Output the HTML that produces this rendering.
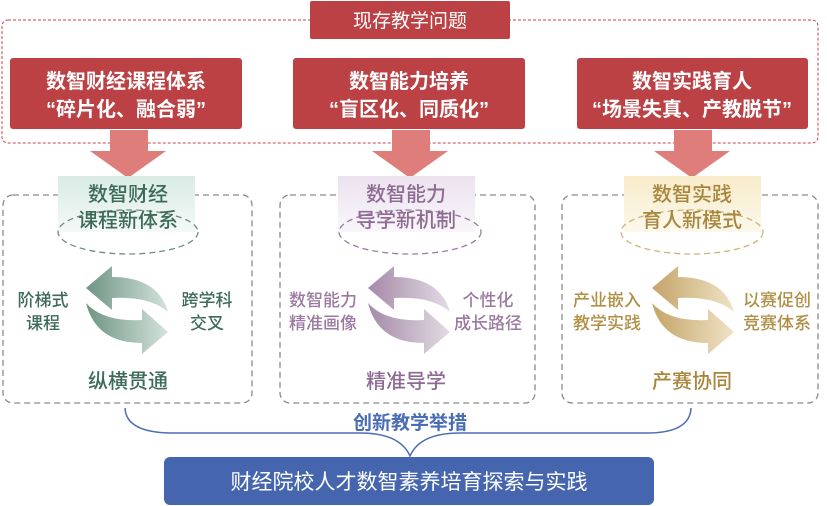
<!DOCTYPE html>
<html><head><meta charset="utf-8"><style>
html,body{margin:0;padding:0;background:#fff;}
svg{display:block;font-family:"Liberation Sans","Noto Sans CJK SC",sans-serif;}
</style></head><body>
<svg width="827" height="506" viewBox="0 0 827 506" xmlns="http://www.w3.org/2000/svg">
<defs>
<linearGradient id="gG" x1="0" x2="1" y1="0" y2="0"><stop offset="0" stop-color="#6e9483"/><stop offset="1" stop-color="#d3e3dc"/></linearGradient>
<linearGradient id="gP" x1="0" x2="1" y1="0" y2="0"><stop offset="0" stop-color="#a58aa8"/><stop offset="1" stop-color="#e3dbe4"/></linearGradient>
<linearGradient id="gY" x1="0" x2="1" y1="0" y2="0"><stop offset="0" stop-color="#c4a468"/><stop offset="1" stop-color="#efe3c6"/></linearGradient>
<linearGradient id="hG" x1="0" x2="0" y1="0" y2="1"><stop offset="0" stop-color="#d9ebe4"/><stop offset="1" stop-color="#f4f9f7"/></linearGradient>
<linearGradient id="hP" x1="0" x2="0" y1="0" y2="1"><stop offset="0" stop-color="#ebe2ee"/><stop offset="1" stop-color="#f9f6fa"/></linearGradient>
<linearGradient id="hY" x1="0" x2="0" y1="0" y2="1"><stop offset="0" stop-color="#f7ebc9"/><stop offset="1" stop-color="#fcf8ec"/></linearGradient>
</defs>

<rect x="2" y="20" width="816" height="123" rx="6" fill="none" stroke="#c9404a" stroke-width="1" stroke-dasharray="3,2"/>
<rect x="310" y="1" width="200" height="38" rx="2" fill="#bb4145"/>
<text x="410" y="27" text-anchor="middle" font-size="19" fill="#fff">现存教学问题</text>

<g font-size="20" fill="#fff" text-anchor="middle" font-weight="bold">
<rect x="10" y="58" width="232" height="71" rx="3" fill="#bb4145"/>
<text x="126" y="88">数智财经课程体系</text><text x="126" y="116">“碎片化、融合弱”</text>
<rect x="293" y="58" width="232" height="71" rx="3" fill="#bb4145"/>
<text x="409" y="88">数智能力培养</text><text x="409" y="116">“盲区化、同质化”</text>
<rect x="577" y="58" width="231" height="71" rx="3" fill="#bb4145"/>
<text x="692" y="88">数智实践育人</text><text x="692" y="116">“场景失真、产教脱节”</text>
</g>

<g fill="#de7d7a">
<path d="M110,130 H148 V151 H166 L128,178 L90,151 H110 Z"/>
<path d="M392,130 H430 V151 H448 L410,178 L372,151 H392 Z"/>
<path d="M674,130 H712 V151 H730 L692,178 L654,151 H674 Z"/>
</g>

<g fill="none" stroke="#8a8a8a" stroke-width="1.3" stroke-dasharray="6,4">
<rect x="3" y="195" width="249" height="208" rx="10"/>
<rect x="280" y="195" width="255" height="208" rx="10"/>
<rect x="562" y="195" width="256" height="208" rx="10"/>
</g>

<rect x="58" y="176" width="137" height="56" fill="url(#hG)"/>
<ellipse cx="128" cy="232" rx="70" ry="22" fill="none" stroke="#6f8c80" stroke-width="1.3" stroke-dasharray="6,4"/>
<g fill="#3d6b5a" font-size="20" text-anchor="middle" font-weight="500">
<text x="128" y="201">数智财经</text><text x="128" y="227">课程新体系</text>
<text x="128" y="388">纵横贯通</text>
</g>
<g fill="#3d6b5a" font-size="17" text-anchor="middle" font-weight="500">
<text x="43" y="306">阶梯式</text><text x="43" y="329">课程</text>
<text x="207" y="306">跨学科</text><text x="207" y="329">交叉</text>
</g>
<g fill="url(#gG)">
<path d="M86,288 L112,266 L112,277 Q158,277 168,312 Q150,296 112,298 L112,310 Z"/>
<path d="M168,332 L142,354 L142,343 Q96,343 86,303 Q103,322 142,320 L142,309 Z"/>
</g>

<rect x="338" y="176" width="137" height="56" fill="url(#hP)"/>
<ellipse cx="410" cy="232" rx="71" ry="22" fill="none" stroke="#9a7da0" stroke-width="1.3" stroke-dasharray="6,4"/>
<g fill="#8d6b93" font-size="20" text-anchor="middle" font-weight="500">
<text x="406" y="201">数智能力</text><text x="406" y="227">导学新机制</text>
<text x="406" y="388">精准导学</text>
</g>
<g fill="#9a7aa0" font-size="17" text-anchor="middle" font-weight="500">
<text x="323" y="306">数智能力</text><text x="323" y="329">精准画像</text>
<text x="488" y="306">个性化</text><text x="488" y="329">成长路径</text>
</g>
<g fill="url(#gP)" transform="translate(282,0)">
<path d="M86,288 L112,266 L112,277 Q158,277 168,312 Q150,296 112,298 L112,310 Z"/>
<path d="M168,332 L142,354 L142,343 Q96,343 86,303 Q103,322 142,320 L142,309 Z"/>
</g>

<rect x="624" y="176" width="137" height="56" fill="url(#hY)"/>
<ellipse cx="692" cy="232" rx="71" ry="22" fill="none" stroke="#cfb47a" stroke-width="1.3" stroke-dasharray="6,4"/>
<g fill="#a8873d" font-size="20" text-anchor="middle" font-weight="500">
<text x="692" y="201">数智实践</text><text x="692" y="227">育人新模式</text>
<text x="692" y="388">产赛协同</text>
</g>
<g fill="#b08f45" font-size="17" text-anchor="middle" font-weight="500">
<text x="607" y="306">产业嵌入</text><text x="607" y="329">教学实践</text>
<text x="777" y="306">以赛促创</text><text x="777" y="329">竞赛体系</text>
</g>
<g fill="url(#gY)" transform="translate(566,0)">
<path d="M86,288 L112,266 L112,277 Q158,277 168,312 Q150,296 112,298 L112,310 Z"/>
<path d="M168,332 L142,354 L142,343 Q96,343 86,303 Q103,322 142,320 L142,309 Z"/>
</g>

<path d="M125,408 Q126,432 170,433 L360,433 Q400,433 410,456 Q420,433 460,433 L650,433 Q690,432 691,408" fill="none" stroke="#4a6db5" stroke-width="1.5"/>
<text x="410" y="429" text-anchor="middle" font-size="19" font-weight="bold" fill="#4a6db5">创新教学举措</text>

<rect x="164" y="457" width="490" height="48" rx="6" fill="#4566ae"/>
<text x="409" y="489" text-anchor="middle" font-size="21" fill="#fff">财经院校人才数智素养培育探索与实践</text>
</svg>
</body></html>
